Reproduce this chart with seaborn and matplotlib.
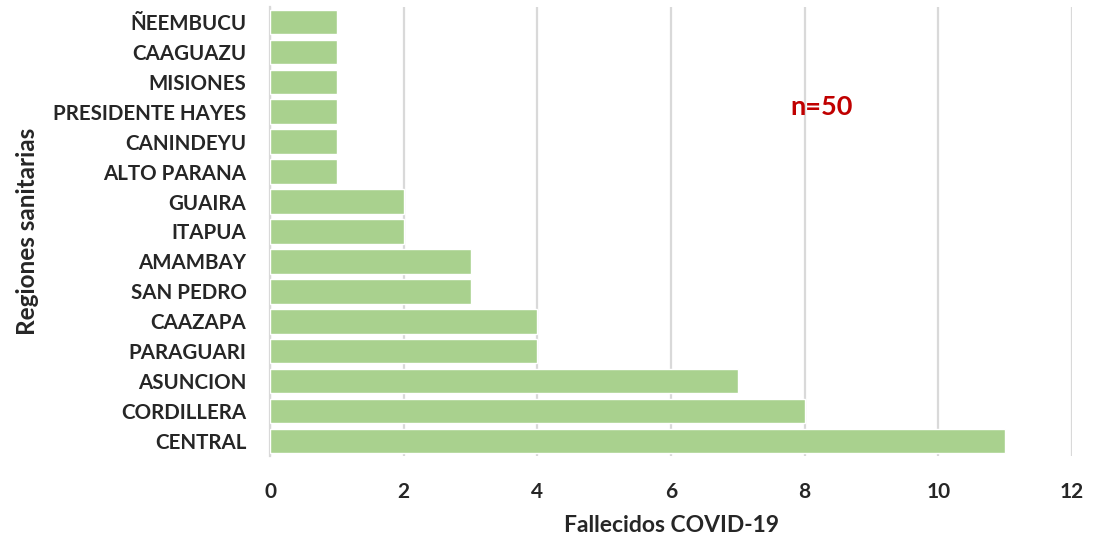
import matplotlib
matplotlib.use("Agg")
import matplotlib.pyplot as plt
import seaborn as sns
import pandas as pd

regiones = ["ÑEEMBUCU", "CAAGUAZU", "MISIONES", "PRESIDENTE HAYES", "CANINDEYU",
            "ALTO PARANA", "GUAIRA", "ITAPUA", "AMAMBAY", "SAN PEDRO",
            "CAAZAPA", "PARAGUARI", "ASUNCION", "CORDILLERA", "CENTRAL"]
fallecidos = [1, 1, 1, 1, 1, 1, 2, 2, 3, 3, 4, 4, 7, 8, 11]
x_ticks = [0, 2, 4, 6, 8, 10, 12]

df = pd.DataFrame({"region": regiones, "fallecidos": fallecidos})

sns.set_style("white")
plt.rcParams['font.family'] = ['Lato', 'DejaVu Sans']

fig = plt.figure(figsize=(11.04, 5.35), dpi=100)
ax = fig.add_axes([0.2446, 0.1477, 0.7264, 0.8393])

sns.barplot(data=df, x="fallecidos", y="region", color="#A9D18E",
            saturation=1, width=0.82, ax=ax, zorder=3)

ax.set_xlim(0, 12)
ax.set_xticks(x_ticks)
ax.grid(axis="x", color="#D9D9D9", linewidth=1.6, zorder=0)
for s in ["top", "right", "bottom"]:
    ax.spines[s].set_visible(False)
ax.spines["left"].set_color("#D9D9D9")
ax.spines["left"].set_linewidth(1.6)
ax.tick_params(axis="both", length=0)
ax.tick_params(axis="x", pad=19)
ax.tick_params(axis="y", pad=17)

for lbl in ax.get_xticklabels():
    lbl.set_fontweight("bold")
    lbl.set_fontsize(15)
    lbl.set_color("#262626")
for lbl in ax.get_yticklabels():
    lbl.set_fontweight("bold")
    lbl.set_fontsize(14.8)
    lbl.set_color("#262626")

ax.set_xlabel("Fallecidos COVID-19", fontsize=16.5, fontweight="bold",
              color="#262626", va="center")
ax.xaxis.set_label_coords(0.5, -0.154)
ax.set_ylabel("Regiones sanitarias", fontsize=17.5, fontweight="bold",
              color="#262626", labelpad=10)

ax.text(8.25, 2.85, "n=50", color="#C00000", fontsize=19.5, fontweight="bold",
        ha="center", va="center")

fig.savefig("out.png", dpi=100)
